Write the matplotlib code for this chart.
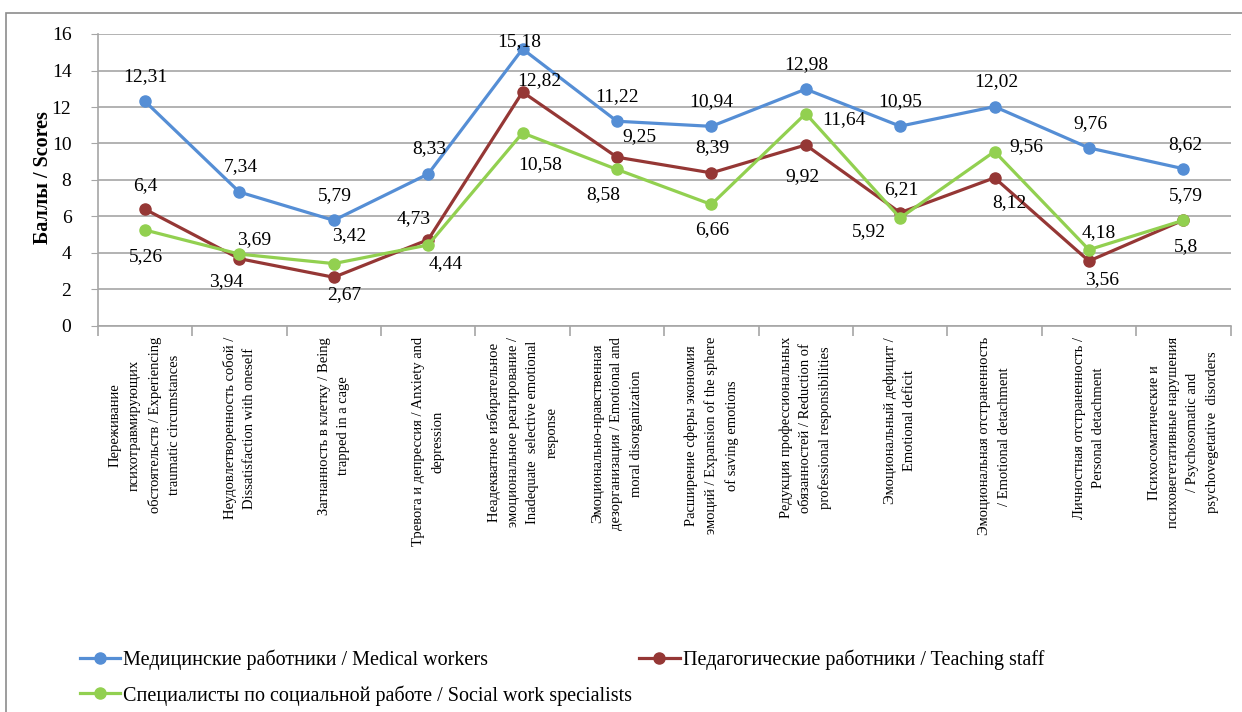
import matplotlib
matplotlib.use("Agg")
import matplotlib.pyplot as plt
from matplotlib.patches import Rectangle
import numpy as np

categories = [
    "Переживание\nпсихотравмирующих\nобстоятельств / Experiencing\ntraumatic circumstances",
    "Неудовлетворенность собой /\nDissatisfaction with oneself",
    "Загнанность в клетку / Being\ntrapped in a cage",
    "Тревога и депрессия / Anxiety and\ndepression",
    "Неадекватное избирательное\nэмоциональное реагирование /\nInadequate  selective emotional\nresponse",
    "Эмоционально-нравственная\nдезорганизация / Emotional and\nmoral disorganization",
    "Расширение сферы экономия\nэмоций / Expansion of the sphere\nof saving emotions",
    "Редукция профессиональных\nобязанностей / Reduction of\nprofessional responsibilities",
    "Эмоциональный дефицит /\nEmotional deficit",
    "Эмоциональная отстраненность\n/ Emotional detachment",
    "Личностная отстраненность /\nPersonal detachment",
    "Психосоматические и\nпсиховегетативные нарушения\n/ Psychosomatic and\npsychovegetative  disorders",
]

medical = [12.31, 7.34, 5.79, 8.33, 15.18, 11.22, 10.94, 12.98, 10.95, 12.02, 9.76, 8.62]
teaching = [6.4, 3.69, 2.67, 4.73, 12.82, 9.25, 8.39, 9.92, 6.21, 8.12, 3.56, 5.8]
social = [5.26, 3.94, 3.42, 4.44, 10.58, 8.58, 6.66, 11.64, 5.92, 9.56, 4.18, 5.79]

series_names = [
    "Медицинские работники / Medical workers",
    "Педагогические работники / Teaching staff",
    "Специалисты по социальной работе / Social work specialists",
]
colors = ["#558ED5", "#953735", "#92D050"]

# label offsets in pixels (dx right, dy down) relative to the point
off_medical = [(0, -25), (1, -25), (1, -24.5), (1, -25), (-3, -7), (0, -24.5),
               (0, -25), (1, -25), (0, -24.5), (2, -25), (2, -24), (2, -24)]
off_teaching = [(0, -23.5), (14.5, -19.5), (10, 17), (-14, -21.5), (17, -11), (22, -21),
                (1, -25), (-3, 32), (1, -23), (15, 25), (13.5, 19), (2.5, 26.5)]
off_social = [(1, 26.5), (-13.5, 27.5), (15, -28), (18, 19), (18, 32), (-14, 25.5),
              (1, 25.5), (38, 6.5), (-31, 14), (32, -5), (10, -17), (2.5, -24.5)]

FONT = "Liberation Serif"
plt.rcParams["font.family"] = [FONT, "DejaVu Serif"]

W, H = 1242, 712
fig = plt.figure(figsize=(W / 100, H / 100), dpi=100)
fig.patches.append(Rectangle((6 / W, -0.1), 1.2, 1 - 13 / H + 0.1, transform=fig.transFigure,
                             fill=False, edgecolor="#8c8c8c", lw=1.2))

ax = fig.add_axes([97.8 / W, (H - 326) / H, 1132.7 / W, 292 / H])
x = np.arange(len(categories))

grid_c = "#a6a6a6"
ax.set_xlim(-0.5, len(categories) - 0.5)
ax.set_ylim(0, 16)
ax.set_yticks(np.arange(0, 17, 2))
ax.yaxis.grid(True, color=grid_c, lw=1.2)
ax.set_axisbelow(True)
for s in ["top", "right"]:
    ax.spines[s].set_visible(False)
ax.spines["left"].set_color(grid_c)
ax.spines["bottom"].set_color(grid_c)
ax.spines["left"].set_linewidth(1.2)
ax.spines["bottom"].set_linewidth(1.2)

ax.tick_params(axis="y", length=5, color=grid_c, labelsize=14, pad=14)
ax.set_xticks(x)
ax.set_xticklabels(categories, rotation=90, fontsize=10.5, ha="center", va="top",
                   linespacing=1.62)
for lab in ax.get_xticklabels():
    lab.set_multialignment("center")
ax.tick_params(axis="x", which="major", length=0, pad=8)
ax.set_xticks(np.arange(-0.5, len(categories), 1), minor=True)
ax.tick_params(axis="x", which="minor", length=7, color=grid_c, width=1.2)

handles = []
for vals, col, name, offs in zip([medical, teaching, social], colors, series_names,
                                 [off_medical, off_teaching, off_social]):
    h, = ax.plot(x, vals, color=col, lw=2.3, marker="o", markersize=8, label=name,
                 clip_on=False, solid_joinstyle="round")
    handles.append(h)
    for xi, v, (dx, dy) in zip(x, vals, offs):
        ax.annotate(f"{v:g}".replace(".", ","), (xi, v), xytext=(dx, -dy),
                    textcoords="offset pixels", ha="center", va="center",
                    fontsize=14, color="black")

fig.text(43.5 / W, 1 - 177.5 / H, "Баллы / Scores", rotation=90, ha="center", va="center",
         fontsize=14.5, fontweight="bold")

leg = fig.legend([handles[0], handles[2], handles[1]],
                 [series_names[0], series_names[2], series_names[1]],
                 ncol=2, loc="upper left", bbox_to_anchor=(80 / W, 1 - 650 / H),
                 frameon=False, fontsize=14.5, handlelength=2.0, handletextpad=0.15,
                 columnspacing=0.35, labelspacing=0.72, borderaxespad=0, borderpad=0)

fig.savefig("out.png", dpi=100)
